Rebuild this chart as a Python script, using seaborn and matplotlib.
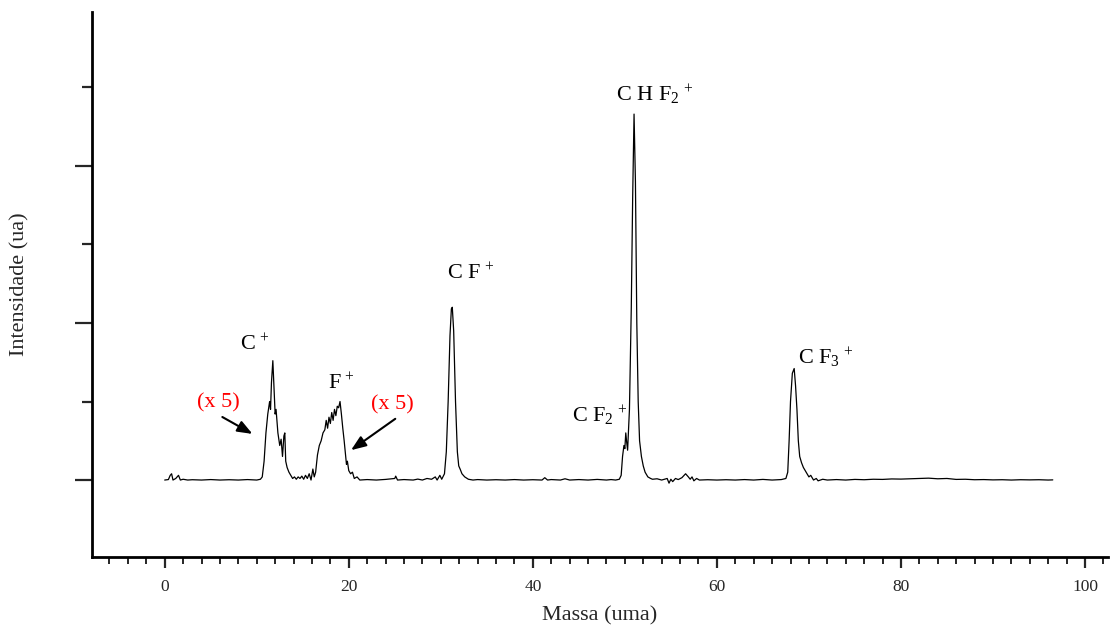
import matplotlib
matplotlib.use("Agg")
import matplotlib.pyplot as plt
import seaborn as sns
from matplotlib.ticker import MultipleLocator, NullFormatter

sns.set_style("ticks")
plt.rcParams["font.family"] = ["Liberation Serif", "DejaVu Serif"]
plt.rcParams["mathtext.fontset"] = "custom"
plt.rcParams["mathtext.rm"] = "Liberation Serif"
plt.rcParams["mathtext.it"] = "Liberation Serif"

# ---- data (mass in uma, intensity in arbitrary units) ----
mass = [0.0, 0.4, 0.6, 0.75, 0.9, 1.2, 1.5, 1.7, 2.0, 2.5, 3.0, 4, 5, 6, 7, 8, 9, 10,
        10.4, 10.6, 10.8, 11.0, 11.2, 11.4, 11.5, 11.6, 11.75, 11.9, 12.0, 12.1, 12.3,
        12.5, 12.65, 12.8, 12.95, 13.05, 13.15, 13.3, 13.5, 13.7, 13.9, 14.1, 14.3,
        14.5, 14.7, 14.9, 15.1, 15.3, 15.5, 15.7, 15.9, 16.1, 16.25, 16.4, 16.6, 16.8,
        17.0, 17.2, 17.4, 17.55, 17.7, 17.85, 18.0, 18.15, 18.3, 18.45, 18.6, 18.75,
        18.9, 19.05, 19.2, 19.35, 19.5, 19.65, 19.75, 19.85, 20.0, 20.2, 20.4, 20.6,
        20.9, 21.2, 22, 23, 24, 25.0, 25.1, 25.3, 26, 27, 27.5, 28, 28.5, 29.0, 29.4,
        29.6, 29.9, 30.1, 30.4, 30.6, 30.8, 31.0, 31.15, 31.25, 31.4, 31.6, 31.8,
        31.95, 32.1, 32.3, 32.6, 33.0, 33.5, 34, 35, 36, 37, 38, 39, 40, 41.0, 41.3,
        41.6, 42, 43, 43.5, 44, 45, 46, 47, 48, 48.5, 49.0, 49.4, 49.6, 49.75, 49.9,
        50.0, 50.1, 50.2, 50.3, 50.5, 50.7, 50.85, 51.0, 51.15, 51.3, 51.45, 51.6,
        51.8, 52.0, 52.2, 52.5, 52.8, 53.0, 53.5, 54.0, 54.6, 54.8, 55.0, 55.2, 55.5,
        55.8, 56.2, 56.6, 56.9, 57.1, 57.3, 57.5, 57.8, 58.1, 59, 60, 61, 62, 63, 64,
        65, 66, 67, 67.5, 67.7, 67.85, 68.0, 68.2, 68.4, 68.55, 68.7, 68.85, 69.0,
        69.2, 69.4, 69.6, 69.8, 70.0, 70.2, 70.5, 70.8, 71.0, 71.5, 72, 73, 74, 75,
        76, 77, 78, 79, 80, 81, 82, 83, 84, 85, 86, 87, 88, 89, 90, 91, 92, 93, 94,
        95, 96, 96.5]
intensity = [0.0, 0.003, 0.03, 0.04, 0.0, 0.01, 0.03, 0.0, 0.005, 0.0, 0.002, 0.0,
             0.003, 0.0, 0.002, 0.0, 0.003, 0.0,
             0.005, 0.02, 0.12, 0.3, 0.42, 0.5, 0.45, 0.62, 0.76, 0.55, 0.42, 0.45, 0.3,
             0.22, 0.26, 0.15, 0.28, 0.3, 0.12, 0.08, 0.05, 0.03, 0.01, 0.02, 0.005,
             0.02, 0.01, 0.025, 0.005, 0.03, 0.01, 0.04, 0.0, 0.07, 0.02, 0.05, 0.16, 0.22,
             0.25, 0.3, 0.32, 0.38, 0.33, 0.4, 0.36, 0.43, 0.38, 0.45, 0.41, 0.47,
             0.46, 0.5, 0.42, 0.33, 0.25, 0.16, 0.1, 0.12, 0.06, 0.04, 0.05, 0.01,
             0.02, 0.0, 0.003, 0.0, 0.004, 0.01, 0.025, 0.0, 0.003, 0.0, 0.006, 0.0, 0.01, 0.005, 0.02,
             0.0, 0.03, 0.005, 0.04, 0.18, 0.5, 0.92, 1.09, 1.1, 0.95, 0.5, 0.18,
             0.09, 0.07, 0.04, 0.02, 0.005, 0.0, 0.003, 0.0, 0.002, 0.0, 0.003, 0.0, 0.002, 0.0, 0.015,
             0.0, 0.003, 0.0, 0.008, 0.0, 0.003, 0.0, 0.004, 0.0, 0.003, 0.0, 0.005, 0.03, 0.15, 0.22,
             0.2, 0.3, 0.24, 0.19, 0.45, 1.1, 1.8, 2.33, 1.9, 1.0, 0.5, 0.25,
             0.15, 0.09, 0.05, 0.02, 0.01, 0.005, 0.008, 0.0, 0.01, -0.02, 0.005, -0.01, 0.01,
             0.003, 0.015, 0.04, 0.02, 0.005, 0.02, -0.005, 0.01, 0.0, 0.002, 0.0, 0.002, 0.0, 0.003, 0.0,
             0.004, 0.0, 0.003, 0.01, 0.05, 0.25, 0.5, 0.68, 0.71, 0.6, 0.45, 0.25, 0.15,
             0.11, 0.08, 0.06, 0.04, 0.02, 0.03, 0.0, 0.01, -0.005, 0.005, 0.0, 0.003, 0.0, 0.004,
             0.002, 0.005, 0.004, 0.007, 0.006, 0.008, 0.01, 0.012, 0.008, 0.01, 0.004, 0.005, 0.002,
             0.003, 0.001, 0.002, 0.0, 0.002, 0.001, 0.002, 0.0, 0.001]

x_ticks = [0, 20, 40, 60, 80, 100]
x_tick_labels = ["0", "20", "40", "60", "80", "100"]

fig = plt.figure(figsize=(11.12, 6.31), dpi=100)
ax = fig.add_axes([92 / 1112, 74 / 631, (1108 - 92) / 1112, (557 - 12) / 631])

sns.lineplot(x=mass, y=intensity, color="black", linewidth=0.9, ax=ax,
             estimator=None, sort=False)

ax.set_xlim(-7.9, 102.5)
ax.set_ylim(-0.49, 2.98)

for side in ["top", "right"]:
    ax.spines[side].set_visible(False)
for side in ["left", "bottom"]:
    ax.spines[side].set_linewidth(2.0)
    ax.spines[side].set_color("black")

ax.set_xticks(x_ticks)
ax.set_xticklabels(x_tick_labels, fontsize=12.5)
ax.xaxis.set_minor_locator(MultipleLocator(2))
ax.yaxis.set_major_locator(MultipleLocator(1))
ax.yaxis.set_minor_locator(MultipleLocator(0.5))
ax.yaxis.set_major_formatter(NullFormatter())
ax.tick_params(axis="x", which="major", direction="out", length=8, width=1.6, pad=8)
ax.tick_params(axis="x", which="minor", direction="out", length=5, width=1.4)
ax.tick_params(axis="y", which="major", direction="out", length=12, width=1.6)
ax.tick_params(axis="y", which="minor", direction="out", length=7, width=1.6)

ax.set_xlabel("Massa (uma)", fontsize=16, labelpad=8)
ax.set_ylabel("Intensidade (ua)", fontsize=16)
ax.yaxis.set_label_coords(-0.062, 0.5)

lbl = dict(fontsize=16, ha="center", va="center", color="black")
ax.text(9.8, 0.86, r"C$^{\,+}$", **lbl)
ax.text(19.2, 0.61, r"F$^{\,+}$", **lbl)
ax.text(33.3, 1.31, r"C F$^{\,+}$", **lbl)
ax.text(47.3, 0.41, r"C F$_{2}$$^{\,+}$", **lbl)
ax.text(53.3, 2.45, r"C H F$_{2}$$^{\,+}$", **lbl)
ax.text(71.8, 0.78, r"C F$_{3}$$^{\,+}$", **lbl)

red = dict(fontsize=16, ha="center", va="center", color="red")
ax.text(5.8, 0.49, "(x 5)", **red)
ax.text(24.7, 0.48, "(x 5)", **red)
arrow = dict(arrowstyle="-|>,head_length=0.9,head_width=0.35", color="black", lw=1.5)
ax.annotate("", xy=(9.8, 0.285), xytext=(6.0, 0.41), arrowprops=arrow)
ax.annotate("", xy=(20.0, 0.18), xytext=(25.3, 0.4), arrowprops=arrow)

fig.savefig("out.png", dpi=100, facecolor="white")
